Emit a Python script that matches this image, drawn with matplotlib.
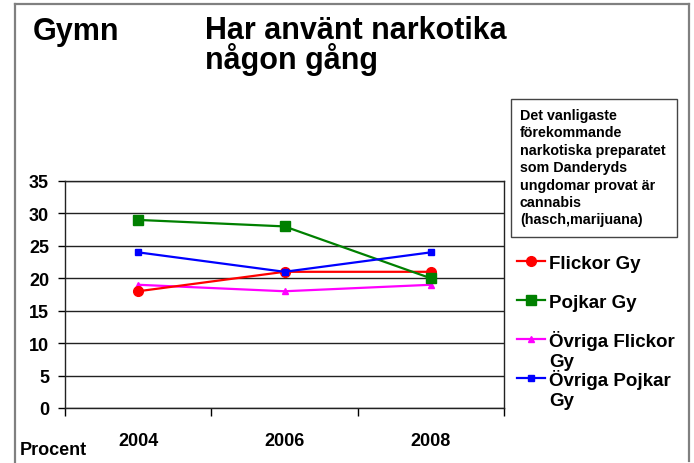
import matplotlib
matplotlib.use("Agg")
import matplotlib.pyplot as plt
from matplotlib.lines import Line2D
from matplotlib.patches import Rectangle

plt.rcParams['font.family'] = ['Liberation Sans', 'DejaVu Sans']
plt.rcParams['font.weight'] = 'bold'

years = ["2004", "2006", "2008"]
flickor = [18, 21, 21]
pojkar = [29, 28, 20]
ovr_flickor = [19, 18, 19]
ovr_pojkar = [24, 21, 24]
yticks = [0, 5, 10, 15, 20, 25, 30, 35]

W, H = 694, 464
fig = plt.figure(figsize=(W / 100, H / 100), dpi=100)


def fx(x):
    return x / W


def fy(y):
    return 1 - y / H


# outer frame
border = '#808080'
fig.add_artist(Line2D([fx(15), fx(15)], [fy(5), fy(464)], transform=fig.transFigure, color=border, lw=1.6))
fig.add_artist(Line2D([fx(15), fx(689)], [fy(5), fy(5)], transform=fig.transFigure, color=border, lw=1.6))
fig.add_artist(Line2D([fx(689), fx(689)], [fy(5), fy(462)], transform=fig.transFigure, color=border, lw=1.6))

ax = fig.add_axes([fx(65), fy(409), fx(504) - fx(65), fy(182) - fy(409)])
x = list(range(len(years)))

series = [
    ("Flickor Gy", flickor, '#FF0000', 'o', 7, 3),
    ("Pojkar Gy", pojkar, '#008000', 's', 6.5, 4),
    ("Övriga Flickor\nGy", ovr_flickor, '#FF00FF', '^', 4, 2),
    ("Övriga Pojkar\nGy", ovr_pojkar, '#0000FF', 's', 4, 5),
]
for label, vals, col, mk, ms, z in series:
    ax.plot(x, vals, color=col, marker=mk, markersize=ms, lw=1.6, zorder=z,
            markeredgecolor=col, clip_on=False)

ax.set_xlim(-0.5, 2.5)
ax.set_ylim(0, 35)
ax.set_yticks(yticks)
ax.set_yticklabels([str(v) for v in yticks], fontsize=13, fontweight='bold')
ax.tick_params(axis='y', length=5, width=1, pad=6.5, direction='out')
ax.set_xticks([-0.5, 0.5, 1.5, 2.5])
ax.set_xticklabels([])
ax.tick_params(axis='x', which='major', length=6, width=1, direction='out')
ax.set_xticks(x, minor=True)
ax.set_xticklabels(years, minor=True, fontsize=13, fontweight='bold')
ax.tick_params(axis='x', which='minor', length=0, pad=17)
ax.yaxis.grid(True, color='#222222', lw=1)
ax.set_axisbelow(True)
for s in ax.spines.values():
    s.set_color('#222222')
    s.set_linewidth(1)

# titles
fig.text(fx(33), fy(40), "Gymn", fontsize=22, fontweight='bold', va='baseline', ha='left')
fig.text(fx(205), fy(39), "Har använt narkotika", fontsize=22, fontweight='bold', va='baseline', ha='left')
fig.text(fx(205), fy(69), "någon gång", fontsize=22, fontweight='bold', va='baseline', ha='left')

fig.text(fx(20), fy(455), "Procent", fontsize=13, fontweight='bold', va='baseline', ha='left')

# note box
fig.add_artist(Rectangle((fx(511), fy(238)), fx(677) - fx(511), fy(100) - fy(238),
                         transform=fig.transFigure, fill=False, edgecolor='#444444', lw=1))
note = ["Det vanligaste", "förekommande", "narkotiska preparatet", "som Danderyds",
        "ungdomar provat är", "cannabis", "(hasch,marijuana)"]
for i, line in enumerate(note):
    fig.text(fx(520), fy(120 + i * 17.4), line, fontsize=10.3, fontweight='bold',
             va='baseline', ha='left')

# legend
leg_y = [262, 301, 340, 379]
for (label, vals, col, mk, ms, z), yy in zip(series, leg_y):
    fig.add_artist(Line2D([fx(517), fx(545)], [fy(yy), fy(yy)], transform=fig.transFigure,
                          color=col, lw=1.6))
    fig.add_artist(Line2D([fx(531)], [fy(yy)], transform=fig.transFigure, color=col,
                          marker=mk, markersize=ms, markeredgecolor=col, lw=0))
    lines = label.split("\n")
    for j, t in enumerate(lines):
        fig.text(fx(549), fy(yy + 7 + j * 20.5), t, fontsize=13.5, fontweight='bold',
                 va='baseline', ha='left')

fig.savefig("out.png", dpi=100)
